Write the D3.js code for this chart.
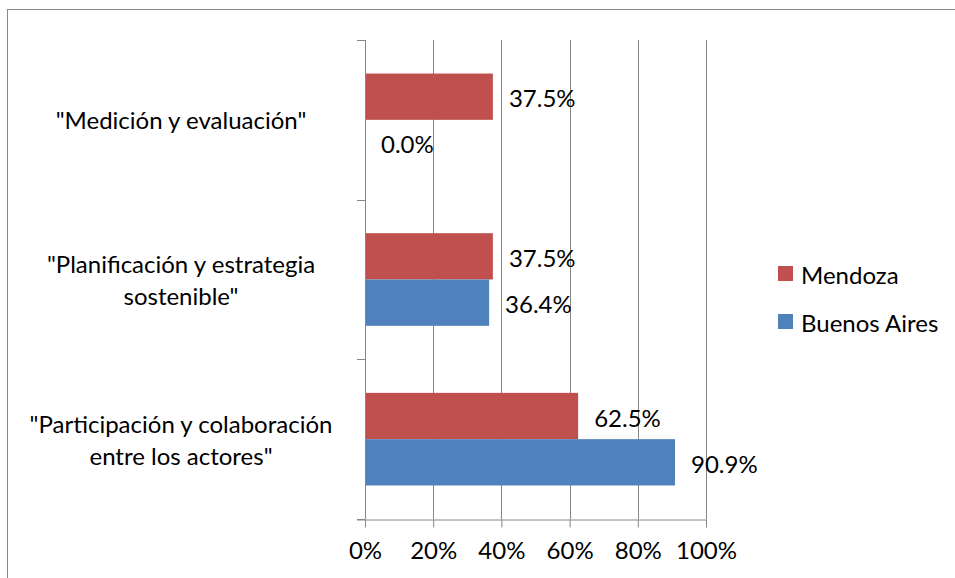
<!DOCTYPE html>
<html>
<head>
<meta charset="utf-8">
<script src="https://cdn.jsdelivr.net/npm/d3@7"></script>
<style>
  body { margin: 0; background: #fff; }
  svg text { font-family: Lato, "Liberation Sans", sans-serif; fill: #000; }
</style>
</head>
<body>
<svg id="chart" width="955" height="578"></svg>
<script>
// categories, top to bottom, each one split into lines
var categories = [
  ['"Medición y evaluación"'],
  ['"Planificación y estrategia', 'sostenible"'],
  ['"Participación y colaboración', 'entre los actores"']
];
var seriesNames = ["Mendoza", "Buenos Aires"];
var seriesColors = ["#C0504D", "#4F81BD"];
// values per category, same order as categories
var mendoza = [0.375, 0.375, 0.625];
var buenosAires = [0.0, 0.364, 0.909];
var xTicks = [0, 0.2, 0.4, 0.6, 0.8, 1.0];

var margin = {top: 40, left: 365, right: 249, bottom: 59};
var W = 955, H = 578;
var w = W - margin.left - margin.right, h = H - margin.top - margin.bottom;
var fs = "24px";

var svg = d3.select("#chart");

// outer frame (goes past the right and bottom edge like the picture)
svg.append("rect")
  .attr("x", 7.5).attr("y", 9.5)
  .attr("width", 970).attr("height", 600)
  .attr("fill", "none").attr("stroke", "#888").attr("stroke-width", 1);

var g = svg.append("g").attr("transform", "translate(" + margin.left + "," + margin.top + ")");

var x = d3.scaleLinear().domain([0, 1]).range([0, w]);
var keys = categories.map(function(c){ return c.join(" "); });
var y = d3.scaleBand().domain(keys).range([0, h]).paddingInner(0.42).paddingOuter(0.21);
var ySub = d3.scaleBand().domain(seriesNames).range([0, y.bandwidth()]);

var rows = keys.map(function(k, i){
  return {key: k, lines: categories[i], vals: [mendoza[i], buenosAires[i]]};
});

// vertical gridlines
g.selectAll("line.grid").data(xTicks.slice(1)).enter().append("line")
  .attr("class", "grid")
  .attr("x1", function(d){ return Math.round(x(d)) + 0.5; })
  .attr("x2", function(d){ return Math.round(x(d)) + 0.5; })
  .attr("y1", 0).attr("y2", h)
  .attr("stroke", "#868686").attr("stroke-width", 1);

// bars
var grp = g.selectAll("g.cat").data(rows).enter().append("g")
  .attr("class", "cat")
  .attr("transform", function(d){ return "translate(0," + y(d.key) + ")"; });

grp.selectAll("rect").data(function(d){
    return d.vals.map(function(v, j){ return {name: seriesNames[j], v: v, j: j}; });
  }).enter().append("rect")
  .attr("x", 0)
  .attr("y", function(d){ return ySub(d.name); })
  .attr("width", function(d){ return x(d.v); })
  .attr("height", ySub.bandwidth())
  .attr("fill", function(d){ return seriesColors[d.j]; });

// value labels
var fmt = d3.format(".1%");
grp.selectAll("text.val").data(function(d){
    return d.vals.map(function(v, j){ return {name: seriesNames[j], v: v}; });
  }).enter().append("text")
  .attr("class", "val")
  .attr("x", function(d){ return x(d.v) + 16; })
  .attr("y", function(d){ return ySub(d.name) + ySub.bandwidth() / 2 + 1; })
  .attr("dominant-baseline", "central")
  .style("font-size", fs)
  .text(function(d){ return fmt(d.v); });

// y axis line and ticks at band boundaries
var edges = d3.range(keys.length + 1).map(function(i){ return i * h / keys.length; });
g.append("line").attr("x1", 0.5).attr("x2", 0.5).attr("y1", 0).attr("y2", h)
  .attr("stroke", "#868686");
g.selectAll("line.ytick").data(edges).enter().append("line")
  .attr("x1", -8).attr("x2", 0)
  .attr("y1", function(d){ return Math.round(d) + 0.5; })
  .attr("y2", function(d){ return Math.round(d) + 0.5; })
  .attr("stroke", "#868686");

// category labels
grp.append("text")
  .attr("text-anchor", "middle")
  .attr("transform", "translate(-184," + (y.bandwidth() / 2) + ")")
  .style("font-size", fs)
  .selectAll("tspan").data(function(d){ return d.lines.map(function(l, i){ return {l: l, i: i, n: d.lines.length}; }); })
  .enter().append("tspan")
  .attr("x", 0)
  .attr("y", function(d){ return (d.i - (d.n - 1) / 2) * 32; })
  .attr("dominant-baseline", "central")
  .text(function(d){ return d.l; });

// x axis
var xAxis = d3.axisBottom(x).tickValues(xTicks).tickFormat(d3.format(".0%")).tickSize(8).tickPadding(14);
var ax = g.append("g").attr("transform", "translate(0," + (h + 0.5) + ")").call(xAxis);
ax.select(".domain").attr("stroke", "#868686").attr("d", "M-8,0.5H" + (w + 0.5));
ax.selectAll(".tick line").attr("stroke", "#868686");
ax.selectAll("text").style("font-size", fs);
ax.attr("font-family", null).attr("font-size", null);

// legend
var lg = svg.append("g").attr("transform", "translate(778,266)");
var li = lg.selectAll("g").data(seriesNames).enter().append("g")
  .attr("transform", function(d, i){ return "translate(0," + i * 48 + ")"; });
li.append("rect").attr("width", 15).attr("height", 15)
  .attr("fill", function(d, i){ return seriesColors[i]; });
li.append("text").attr("x", 23).attr("y", 8)
  .attr("dominant-baseline", "central")
  .style("font-size", fs)
  .text(function(d){ return d; });
</script>
</body>
</html>
